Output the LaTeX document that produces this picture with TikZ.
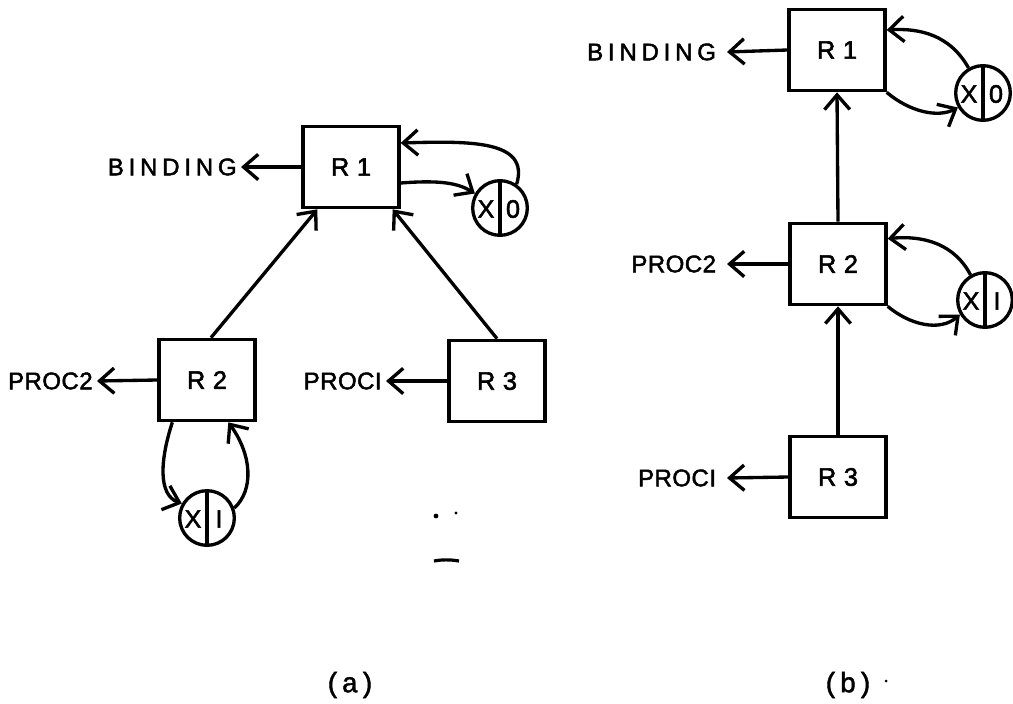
\documentclass[tikz,border=0pt]{standalone}
\usepackage{fontspec}
\setmainfont{Liberation Sans}
\setmonofont[FakeBold=1.5]{Liberation Mono}
\newfontfamily\lblfont[LetterSpace=2,FakeBold=2]{Liberation Sans}
\newfontfamily\widefont[LetterSpace=20,FakeBold=2]{Liberation Sans}
\newfontfamily\boxfont[LetterSpace=30,FakeBold=2.2]{Liberation Sans}
\newfontfamily\regfont[FakeBold=2]{Liberation Sans}
\usetikzlibrary{arrows.meta,calc}
\begin{document}
\begin{tikzpicture}[x=0.75pt,y=-0.75pt,
  line width=2.5pt,
  arr/.style={-{Straight Barb[length=11pt,width=19pt]}},
  box/.style={draw, minimum width=72pt, minimum height=61pt, inner sep=0pt, font=\boxfont\fontsize{19}{20}\selectfont},
  lbl/.style={anchor=east, inner sep=0pt, inner xsep=2pt, font=\lblfont\fontsize{18}{20}\selectfont},
  lblw/.style={lbl, font=\widefont\fontsize{18}{20}\selectfont},
  lblb/.style={lbl, inner xsep=7pt},
  reg/.style={draw, circle, minimum size=41pt, inner sep=0pt},
  rtxt/.style={font=\regfont\fontsize{19}{20}\selectfont, inner sep=0pt},
  captxt/.style={font=\ttfamily\fontsize{21}{24}\selectfont, inner sep=0pt}
]
\fill[white] (0,0) rectangle (1013,703);
\useasboundingbox (0,0) rectangle (1013,703);

% ---------------- (a) ----------------
\node[box] (a1) at (351,167) {R1};
\node[box] (a2) at (207,380) {R2};
\node[box] (a3) at (497,381) {R3};
\node[lblw] (abind) at (241,167) {BINDING};
\node[lbl] (aproc2) at (97,381) {PROC2};
\node[lbl] (aproc1) at (386,381) {PROCI};
\node[reg] (ax0) at (500,208) {};
\node[reg] (ax1) at (207,518) {};
\draw (ax0.north) -- (ax0.south);
\draw (ax1.north) -- (ax1.south);
\node[rtxt] (ax0x) at (486,209) {X};
\node[rtxt] (ax0v) at (513,209) {0};
\node[rtxt] (ax1x) at (193,519) {X};
\node[rtxt] (ax1v) at (219,519) {I};

\draw[arr] (a1.west) -- (abind.east);
\draw[arr] (a2.west) -- (aproc2.east);
\draw[arr] (a3.west) -- (aproc1.east);
\draw[arr] ([xshift=3pt]a2.north) -- ([xshift=12pt]a1.south west);
\draw[arr] (a3.north) -- ([xshift=-6pt]a1.south east);
% loops of R1
\draw[arr] ([yshift=-12pt]a1.east) .. controls (440,180) and (458,183) .. (ax0.150);
\draw[arr] (ax0.55) .. controls (530,140) and (470,141) .. ([yshift=18pt]a1.east);
% loops of R2
\draw[arr] ([xshift=-26pt]a2.south) .. controls (160,460) and (158,495) .. (ax1.150);
\draw[arr] (ax1.20) .. controls (254,490) and (252,455) .. ([xshift=16pt]a2.south);
% stray marks
\fill (436,516) circle (2.4);
\fill (456,513) circle (1.7);
\draw[line width=2.4pt] (434,561) .. controls (442,559.5) and (450,559.5) .. (459,561);

\node[captxt] (capa) at (350,685) {(a)};

% ---------------- (b) ----------------
\node[box] (b1) at (837,50) {R1};
\node[box] (b2) at (838,264) {R2};
\node[box] (b3) at (838,477) {R3};
\node[lblb, font=\widefont\fontsize{18}{20}\selectfont] (bbind) at (727,52) {BINDING};
\node[lblb] (bproc2) at (727,264) {PROC2};
\node[lblb] (bproc1) at (727,478) {PROCI};
\node[reg] (bx0) at (983,93) {};
\node[reg] (bx1) at (985,300) {};
\draw (bx0.north) -- (bx0.south);
\draw (bx1.north) -- (bx1.south);
\node[rtxt] (bx0x) at (969,94) {X};
\node[rtxt] (bx0v) at (996,94) {0};
\node[rtxt] (bx1x) at (971,301) {X};
\node[rtxt] (bx1v) at (997,301) {I};

\draw[arr] (b1.west) -- (bbind.east);
\draw[arr] (b2.west) -- (bproc2.east);
\draw[arr] (b3.west) -- (bproc1.east);
\draw[arr] (b2.north) -- (b1.south);
\draw[arr] (b3.north) -- (b2.south);
\draw[arr] (b1.south east) .. controls (910,112) and (938,118) .. (bx0.210);
\draw[arr] (bx0.120) .. controls (950,35) and (920,28) .. ([yshift=15pt]b1.east);
\draw[arr] (b2.south east) .. controls (910,325) and (940,332) .. (bx1.210);
\draw[arr] (bx1.120) .. controls (955,245) and (925,235) .. ([yshift=19pt]b2.east);

\node[captxt] (capb) at (848,685) {(b)};
\fill (886,681) circle (1.5);
\end{tikzpicture}
\end{document}
